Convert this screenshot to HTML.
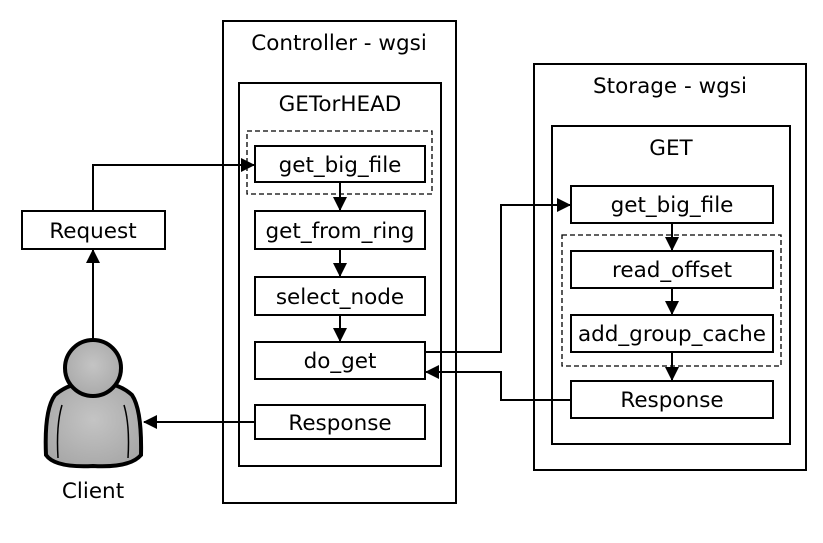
<!DOCTYPE html>
<html><head><meta charset="utf-8"><style>
html,body{margin:0;padding:0;background:#fff;}
svg{display:block;}
text{font-family:"DejaVu Sans","Liberation Sans",sans-serif;font-size:21.5px;fill:#000;text-anchor:middle;}
</style></head><body>
<svg width="823" height="543" viewBox="0 0 823 543" xmlns="http://www.w3.org/2000/svg">
<defs>
<marker id="a" markerWidth="14" markerHeight="14" refX="13" refY="7" orient="auto" markerUnits="userSpaceOnUse">
<path d="M0,0 L14,7 L0,14 z" fill="#000"/></marker>
<radialGradient id="g" cx="50%" cy="45%" r="60%"><stop offset="0" stop-color="#c4c4c4"/><stop offset="1" stop-color="#a8a8a8"/></radialGradient>
</defs>
<g fill="none" stroke="#000" stroke-width="2">
<rect x="223" y="21" width="233" height="482"/>
<rect x="239" y="83" width="202" height="383"/>
<rect x="247" y="131" width="185" height="63" stroke-dasharray="5,3" stroke-width="1.3"/>
<rect x="255" y="146" width="170" height="36" fill="#fff"/>
<rect x="255" y="211" width="170" height="38"/>
<rect x="255" y="277" width="170" height="38"/>
<rect x="255" y="342" width="170" height="37"/>
<rect x="255" y="405" width="170" height="34"/>
<rect x="22" y="211" width="143" height="38"/>
<rect x="534" y="64" width="272" height="406"/>
<rect x="552" y="126" width="238" height="318"/>
<rect x="571" y="186" width="202" height="37"/>
<rect x="562" y="235" width="219" height="131" stroke-dasharray="5,3" stroke-width="1.3"/>
<rect x="571" y="251" width="202" height="37"/>
<rect x="571" y="315" width="202" height="37"/>
<rect x="571" y="381" width="202" height="37"/>
<polyline points="93,211 93,165 254,165" marker-end="url(#a)"/>
<polyline points="93,340 93,250" marker-end="url(#a)"/>
<polyline points="255,422 144,422" marker-end="url(#a)"/>
<polyline points="425,352 501,352 501,205 570,205" marker-end="url(#a)"/>
<polyline points="571,400 501,400 501,372 426,372" marker-end="url(#a)"/>
<line x1="340" y1="182" x2="340" y2="210" marker-end="url(#a)"/>
<line x1="340" y1="249" x2="340" y2="276" marker-end="url(#a)"/>
<line x1="340" y1="315" x2="340" y2="341" marker-end="url(#a)"/>
<line x1="672" y1="223" x2="672" y2="250" marker-end="url(#a)"/>
<line x1="672" y1="288" x2="672" y2="314" marker-end="url(#a)"/>
<line x1="672" y1="352" x2="672" y2="380" marker-end="url(#a)"/>
</g>
<g stroke="#000" stroke-width="4" fill="url(#g)">
<path d="M55,395 Q70,382 93,382 Q118,382 132,395 Q142,410 141,455 Q130,468 93,466 Q55,468 46,455 Q44,410 55,395 z"/>
<circle cx="93" cy="368" r="28"/>
</g>
<g stroke="#000" stroke-width="1.5" fill="none">
<path d="M62,405 Q56,425 58,458"/><path d="M124,405 Q130,425 128,458"/>
</g>
<text x="339" y="50">Controller - wgsi</text>
<text x="340" y="111">GETorHEAD</text>
<text x="340" y="172">get_big_file</text>
<text x="340" y="238">get_from_ring</text>
<text x="340" y="304">select_node</text>
<text x="340" y="368">do_get</text>
<text x="340" y="430">Response</text>
<text x="93" y="238">Request</text>
<text x="93" y="498">Client</text>
<text x="670" y="93">Storage - wgsi</text>
<text x="671" y="155">GET</text>
<text x="672" y="212">get_big_file</text>
<text x="672" y="277">read_offset</text>
<text x="672" y="341">add_group_cache</text>
<text x="672" y="407">Response</text>
</svg>
</body></html>
